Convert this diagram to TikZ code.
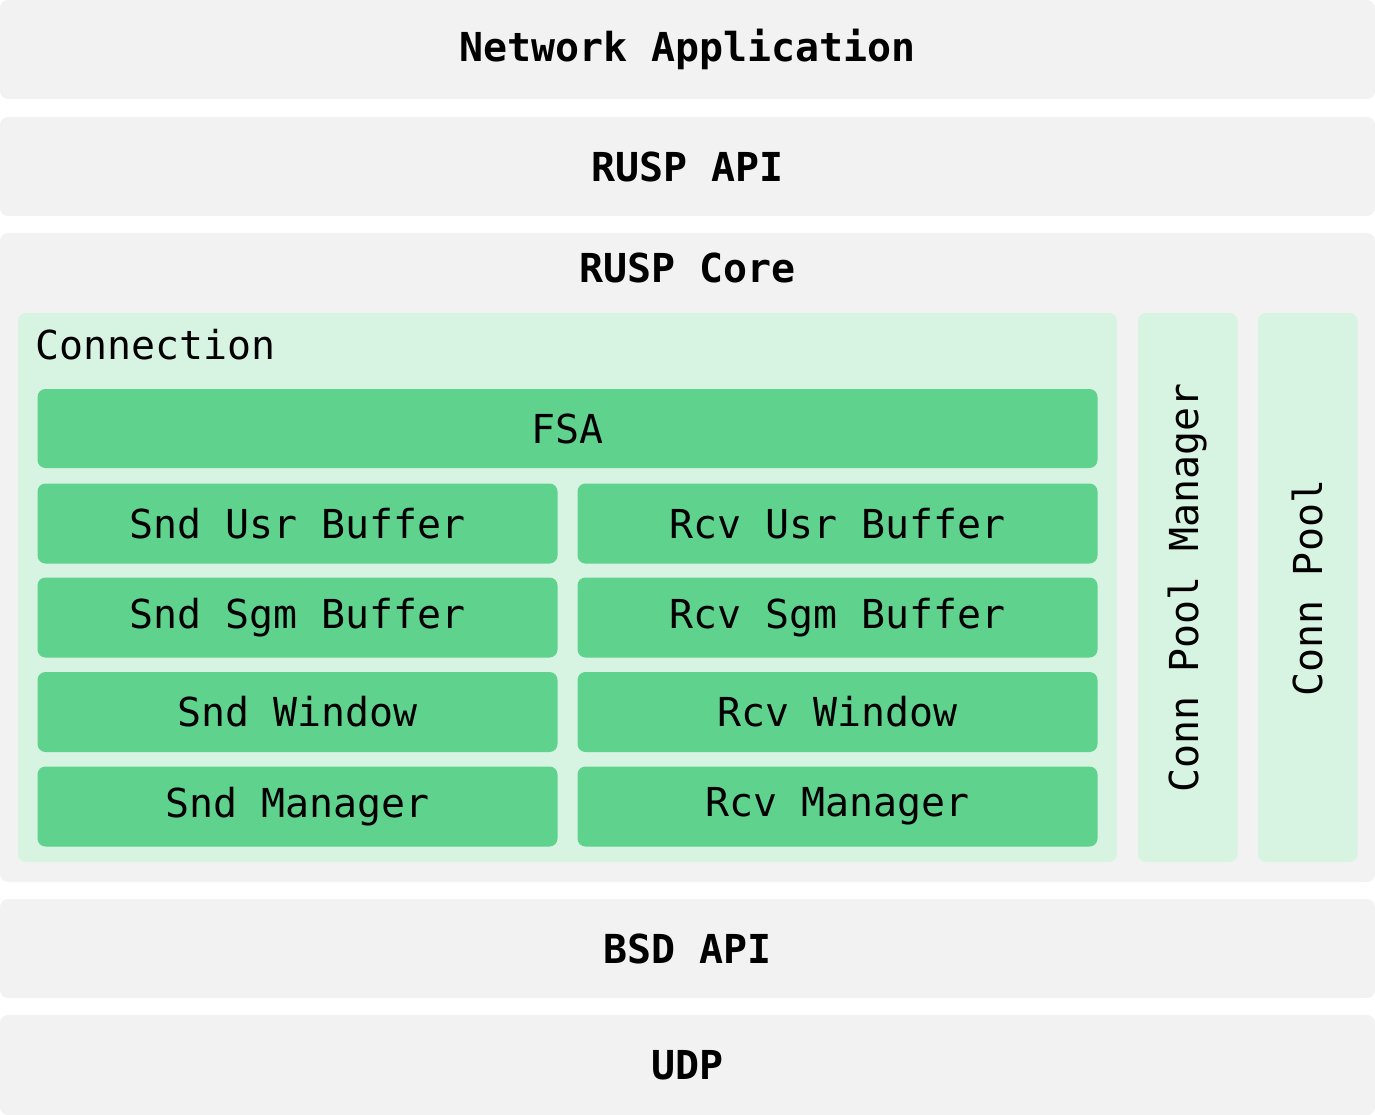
\documentclass[tikz,border=0pt]{standalone}
\usepackage{fontspec}
\setmonofont{DejaVu Sans Mono}
\definecolor{layergray}{HTML}{F2F2F2}
\definecolor{lightgreen}{HTML}{D7F4E3}
\definecolor{midgreen}{HTML}{5FD38D}
\begin{document}
\begin{tikzpicture}[x=1pt,y=-1pt,
  base/.style={anchor=north west,inner sep=0pt,outer sep=0pt,rounded corners=8pt,draw=none,text=black},
  layer/.style={base,fill=layergray,font=\ttfamily\bfseries\fontsize{39.9}{47}\selectfont},
  panel/.style={base,fill=lightgreen,font=\ttfamily\fontsize{39.9}{47}\selectfont},
  comp/.style={base,fill=midgreen,font=\ttfamily\fontsize{39.9}{47}\selectfont},
  lbl/.style={inner sep=0pt,text=black}]
\useasboundingbox (0,0) rectangle (1375,1115);
% layers
\node[layer,minimum width=1375pt,minimum height=99pt] (app) at (0,0) {Network Application};
\node[layer,minimum width=1375pt,minimum height=99pt] (api) at (0,117) {RUSP API};
\node[layer,minimum width=1375pt,minimum height=649pt] (core) at (0,233) {};
\node[lbl,font=\ttfamily\bfseries\fontsize{39.9}{47}\selectfont] (coretitle) at (687.5,268) {RUSP Core};
\node[layer,minimum width=1375pt,minimum height=99pt] (bsd) at (0,899) {BSD API};
\node[layer,minimum width=1375pt,minimum height=100pt] (udp) at (0,1015) {UDP};
% connection panel
\node[panel,minimum width=1099pt,minimum height=549pt] (conn) at (18,313) {};
\node[lbl,anchor=west,font=\ttfamily\fontsize{39.9}{47}\selectfont] (conntitle) at (35,345) {Connection};
\node[comp,minimum width=1060pt,minimum height=79pt] (fsa) at (37.5,389) {FSA};
\node[comp,minimum width=520pt,minimum height=80pt] (sndusr) at (37.5,483.5) {Snd Usr Buffer};
\node[comp,minimum width=520pt,minimum height=80pt] (rcvusr) at (577.5,483.5) {Rcv Usr Buffer};
\node[comp,minimum width=520pt,minimum height=80pt] (sndsgm) at (37.5,577.5) {Snd Sgm Buffer};
\node[comp,minimum width=520pt,minimum height=80pt] (rcvsgm) at (577.5,577.5) {Rcv Sgm Buffer};
\node[comp,minimum width=520pt,minimum height=80pt] (sndwin) at (37.5,672) {Snd Window};
\node[comp,minimum width=520pt,minimum height=80pt] (rcvwin) at (577.5,672) {Rcv Window};
\node[comp,minimum width=520pt,minimum height=80pt] (sndmgr) at (37.5,766.5) {Snd Manager};
\node[comp,minimum width=520pt,minimum height=80pt] (rcvmgr) at (577.5,766.5) {Rcv Manager};
% pool panels
\node[panel,minimum width=99.5pt,minimum height=549pt] (poolmgr) at (1138,313) {};
\node[lbl,rotate=90,font=\ttfamily\fontsize{39.9}{47}\selectfont] (poolmgrtxt) at (1187.5,588) {Conn Pool Manager};
\node[panel,minimum width=99.5pt,minimum height=549pt] (pool) at (1258,313) {};
\node[lbl,rotate=90,font=\ttfamily\fontsize{39.9}{47}\selectfont] (pooltxt) at (1307.5,588) {Conn Pool};
\end{tikzpicture}
\end{document}
